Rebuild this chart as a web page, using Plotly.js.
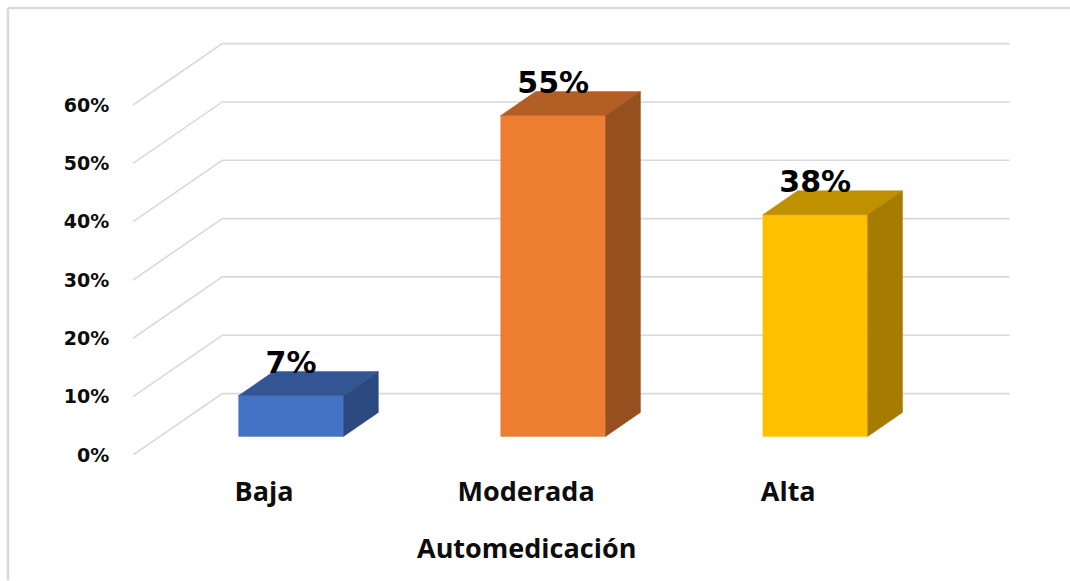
<!DOCTYPE html>
<html>
<head>
<meta charset="utf-8">
<script src="https://cdn.plot.ly/plotly-3.0.0.min.js"></script>
<style>html,body{margin:0;padding:0;background:#fff}#chart{width:1070px;height:581px}</style>
</head>
<body>
<div id="chart"></div>
<script>
const categories = ["Baja", "Moderada", "Alta"];
const values = [7, 55, 38];
const valueLabels = ["7%", "55%", "38%"];
const yTicks = [0, 10, 20, 30, 40, 50, 60];
const yTickLabels = ["0%", "10%", "20%", "30%", "40%", "50%", "60%"];
const frontColors = ["#4472C4", "#ED7D31", "#FFC000"];
const topColors = ["#345594", "#B25E25", "#BF9000"];
const sideColors = ["#2A4A80", "#964F1E", "#A67C00"];
const xAxisTitle = "Automedicación";

const gridColor = "#D9D9D9";
const textColor = "#0D0D0D";
const labelFont = "Open Sans, DejaVu Sans, sans-serif";

// Oblique projection of the chart's depth, in axis units.
const depthX = 0.3406, depthY = 10.53;
const barHalf = 0.2, barNear = 0.303, barFar = 0.693;
const xStart = -0.5, xFrontEnd = 2.504, xMax = 2.85, yMax = 71.147;
const labelRaise = 5.2;

const W = 1070, H = 581, ml = 133, mr = 59.3, mt = 40, mb = 125.5;
const pxX = p => (p - ml) / (W - ml - mr);
const pxY = p => 1 - (p - mt) / (H - mt - mb);

const traces = [];
yTicks.forEach(v => {
  traces.push({
    type: "scatter", mode: "lines", hoverinfo: "skip", showlegend: false, cliponaxis: false,
    x: [xStart, xStart + depthX, xFrontEnd + depthX],
    y: [v, v + depthY, v + depthY],
    line: {color: gridColor, width: 1.6}
  });
});

function face(xs, ys, color) {
  traces.push({
    type: "scatter", mode: "lines", fill: "toself", fillcolor: color, hoverinfo: "skip",
    showlegend: false, cliponaxis: false, x: xs, y: ys,
    line: {color: color, width: 0.5}
  });
}

categories.forEach((c, i) => {
  const v = values[i];
  const xc = i + barNear * depthX;
  const l = xc - barHalf, r = xc + barHalf;
  const base = barNear * depthY, top = base + v;
  const dx = (barFar - barNear) * depthX, dy = (barFar - barNear) * depthY;
  face([l, r, r, l, l], [base, base, top, top, base], frontColors[i]);
  face([l, r, r + dx, l + dx, l], [top, top, top + dy, top + dy, top], topColors[i]);
  face([r, r + dx, r + dx, r, r], [base, base + dy, top + dy, top, base], sideColors[i]);
});

traces.push({
  type: "scatter", mode: "text", hoverinfo: "skip", showlegend: false, cliponaxis: false,
  x: categories.map((c, i) => i + barNear * depthX),
  y: values.map(v => v + barNear * depthY + labelRaise),
  text: valueLabels, textposition: "middle center",
  textfont: {family: "DejaVu Sans, sans-serif", size: 30, color: "#000", weight: 700}
});

const layout = {
  width: W, height: H, showlegend: false,
  paper_bgcolor: "#fff", plot_bgcolor: "#fff",
  margin: {l: ml, r: mr, t: mt, b: mb, pad: 0},
  xaxis: {
    range: [xStart, xMax], tickmode: "array", tickvals: categories.map((c, i) => i), ticktext: categories,
    showgrid: false, zeroline: false, showline: false, automargin: false,
    ticks: "outside", ticklen: 13, tickcolor: "rgba(0,0,0,0)",
    tickfont: {family: labelFont, size: 27, color: textColor, weight: 700}
  },
  yaxis: {
    range: [0, yMax], tickmode: "array", tickvals: yTicks, ticktext: yTickLabels,
    showgrid: false, zeroline: false, showline: false, automargin: false,
    ticks: "outside", ticklen: 19, tickcolor: "rgba(0,0,0,0)",
    tickfont: {family: "DejaVu Sans, sans-serif", size: 19, color: textColor, weight: 700}
  },
  annotations: [{
    text: xAxisTitle, xref: "x", yref: "paper", x: 1, y: pxY(548), xanchor: "center", yanchor: "middle",
    showarrow: false, font: {family: labelFont, size: 27, color: textColor, weight: 700}
  }],
  shapes: [
    {type: "line", xref: "paper", yref: "paper", x0: pxX(8), x1: pxX(1070), y0: pxY(8), y1: pxY(8), line: {color: gridColor, width: 2.5}},
    {type: "line", xref: "paper", yref: "paper", x0: pxX(8), x1: pxX(8), y0: pxY(8), y1: pxY(581), line: {color: gridColor, width: 2.5}}
  ]
};

Plotly.newPlot("chart", traces, layout, {displayModeBar: false, staticPlot: true});
</script>
</body>
</html>
